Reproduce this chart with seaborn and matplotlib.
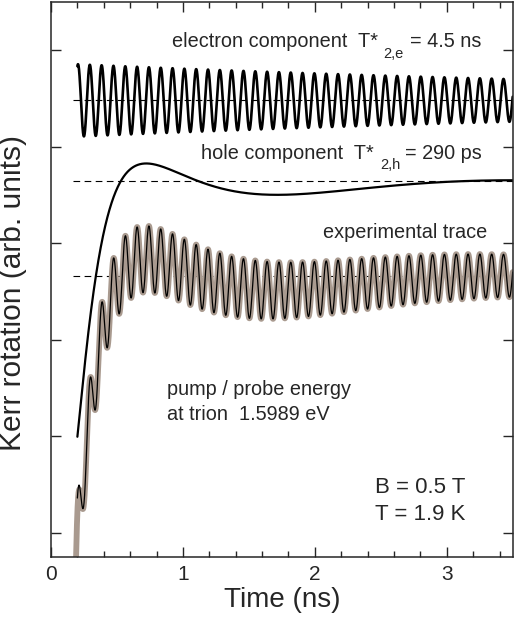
import numpy as np
import pandas as pd
import matplotlib
matplotlib.use("Agg")
import matplotlib.pyplot as plt
import seaborn as sns

# --------------------------------------------------------------------------- #
# Values (y in arbitrary units, tick step = 1)
# --------------------------------------------------------------------------- #
T_FIT_START = 0.2          # ns, where the fit curves begin
T_DATA_START = 0.185       # ns, where the measured trace begins
T_END = 3.5                # ns
T_PEAK0 = 0.2047           # first electron maximum
PERIOD_E = 0.0896          # electron Larmor period (ns)
DECAY_E = 6.2              # envelope decay as drawn (ns)
AMP_E = 0.375

E_BASE = 4.48              # electron component offset
H_BASE = 3.65              # hole component offset
X_BASE = 2.66              # experimental trace offset

# hole component, points
hole_t = [0.200, 0.245, 0.270, 0.313, 0.358, 0.420, 0.480, 0.523, 0.574,
          0.700, 0.900, 1.076, 1.280, 1.620, 1.890, 2.390, 2.900, 3.490]
hole_v = [0.98, 1.64, 1.92, 2.41, 2.76, 3.22, 3.50, 3.65, 3.76,
          3.83, 3.75, 3.65, 3.56, 3.525, 3.53, 3.56, 3.61, 3.665]

# extra dip of the measured trace right at zero delay
DATA_DIP = 0.5
DATA_DIP_TAU = 0.012

GRAY = "#a99a8f"


def hole_model(t):
    # smooth sum of exponentials through the read points (least squares)
    taus = [0.07, 0.15, 0.3, 0.6, 1.2, 2.4]
    s_pts = np.asarray(hole_t) - T_FIT_START
    basis = lambda s: np.column_stack([np.ones_like(s)] + [np.exp(-s / tau) for tau in taus])
    coef, *_ = np.linalg.lstsq(basis(s_pts), np.asarray(hole_v), rcond=None)
    return basis(np.asarray(t) - T_FIT_START) @ coef


def electron_model(t):
    s = t - T_PEAK0
    return E_BASE + AMP_E * np.exp(-s / DECAY_E) * np.cos(2 * np.pi * s / PERIOD_E)


t_fit = np.linspace(T_FIT_START, T_END, 4000)
t_data = np.linspace(T_DATA_START, T_END, 4000)

electron = electron_model(t_fit)
hole = hole_model(t_fit)
fit = X_BASE + (electron - E_BASE) + (hole - H_BASE)
data = (X_BASE + (electron_model(t_data) - E_BASE) + (hole_model(t_data) - H_BASE)
        - DATA_DIP * np.exp(-(t_data - T_DATA_START) / DATA_DIP_TAU))

df_fit = pd.DataFrame({"t": t_fit, "electron": electron, "hole": hole, "fit": fit})
df_data = pd.DataFrame({"t": t_data, "data": data})

# --------------------------------------------------------------------------- #
sns.set_theme(style="ticks")
plt.rcParams["font.family"] = ["Liberation Sans", "DejaVu Sans"]

fig = plt.figure(figsize=(5.2, 6.18), dpi=100)
ax = fig.add_axes([51 / 520, 1 - 557 / 618, 461.7 / 520, 555 / 618])

kw = dict(estimator=None, sort=False, ax=ax, legend=False)
sns.lineplot(data=df_data, x="t", y="data", color=GRAY, lw=4.2, **kw)
sns.lineplot(data=df_fit, x="t", y="fit", color="black", lw=0.9, **kw)
sns.lineplot(data=df_fit, x="t", y="electron", color="black", lw=1.9, **kw)
sns.lineplot(data=df_fit, x="t", y="hole", color="black", lw=1.6, **kw)

for base in (E_BASE, H_BASE, X_BASE):
    ax.hlines(base, 0.167, T_END, color="black", lw=0.8,
              linestyles=(0, (6, 4)), zorder=1)

ax.set_xlim(0, T_END)
ax.set_ylim(-0.25, 5.5)
ax.set_xticks([0, 1, 2, 3])
ax.set_xticks(np.arange(0, 3.5, 0.2), minor=True)
ax.set_yticks(range(6))
ax.tick_params(which="both", direction="in", top=True, right=True, width=1.0,
               labelleft=False, labelsize=15, pad=6)
ax.tick_params(which="major", length=7)
ax.tick_params(which="minor", length=4)
for sp in ax.spines.values():
    sp.set_linewidth(1.1)

ax.set_xlabel("Time (ns)", fontsize=20, labelpad=2)
ax.set_ylabel("Kerr rotation (arb. units)", fontsize=21.5)
ax.yaxis.set_label_coords(-0.052, 0.475)

tkw = dict(fontsize=14.3, va="baseline", ha="left")
skw = dict(fontsize=10.5, va="baseline", ha="left")
# electron component label, T* with a dropped subscript
ax.text(0.917, 5.03, "electron component  T*", **tkw)
ax.text(2.517, 4.915, "2,e", **skw)
ax.text(2.722, 5.03, "= 4.5 ns", **tkw)
# hole component label
ax.text(1.137, 3.87, "hole component  T*", **tkw)
ax.text(2.494, 3.765, "2,h", **skw)
ax.text(2.684, 3.87, "= 290 ps", **tkw)

ax.text(2.062, 3.06, "experimental trace", **tkw)
ax.text(0.879, 1.43, "pump / probe energy", **tkw)
ax.text(0.879, 1.17, "at trion  1.5989 eV", **tkw)
ax.text(2.456, 0.415, "B = 0.5 T", fontsize=16, va="baseline", ha="left")
ax.text(2.456, 0.135, "T = 1.9 K", fontsize=16, va="baseline", ha="left")

fig.savefig("out.png", dpi=100)
